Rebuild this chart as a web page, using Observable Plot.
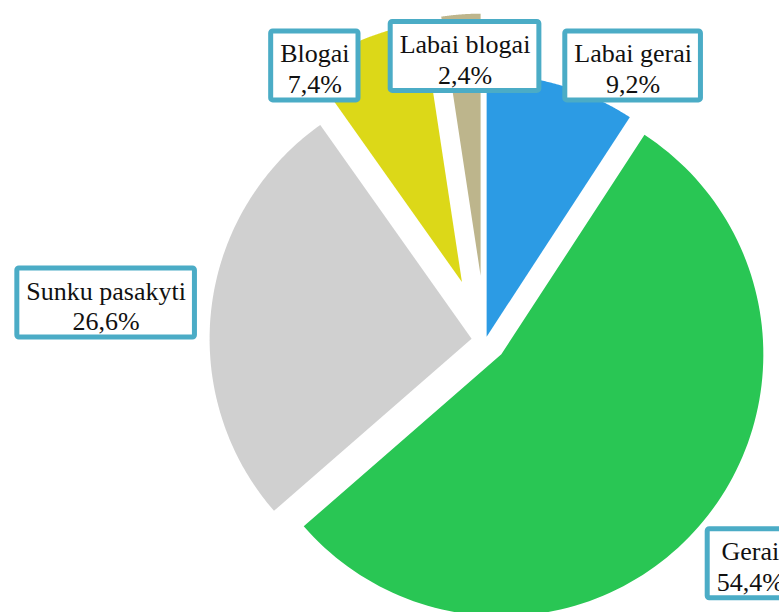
<!DOCTYPE html>
<html>
<head>
<meta charset="utf-8">
<script src="https://cdn.jsdelivr.net/npm/d3@7"></script>
<script src="https://cdn.jsdelivr.net/npm/@observablehq/plot@0.6"></script>
<style>
  html, body { margin: 0; padding: 0; background: #fff; overflow: hidden; }
  #chart svg { display: block; }
</style>
</head>
<body>
<div id="chart"></div>
<script>
// ---- data ----
const categories = ["Labai gerai", "Gerai", "Sunku pasakyti", "Blogai", "Labai blogai"];
const shares = [9.2, 54.4, 26.6, 7.4, 2.4];
const colors = ["#2c9be4", "#29c654", "#d0d0d0", "#dcd818", "#bdb58c"];

// ---- layout (pixels / degrees) ----
const W = 779, H = 612;
const pie = {cx: 485, cy: 340, r: 262};
const explode = [4, 21, 14, 63, 65];
const labelNudge = [11.7, -0.9, -1.2, -9.9, 0.2];
const labelDist = [1.19, 1.322, 1.455, 1.234, 1.087];
const FONT = "'Liberation Serif', 'Times New Roman', serif";
const FS = 26;

const fmt = v => v.toFixed(1).replace(".", ",") + "%";

const arcs = d3.pie().sort(null).value(d => d)(shares);

const ctx = document.createElement("canvas").getContext("2d");
ctx.font = `${FS}px ${FONT}`;

const slices = [];
const labels = [];
arcs.forEach((a, i) => {
  const mid = (a.startAngle + a.endAngle) / 2;
  const ox = pie.cx + explode[i] * Math.sin(mid);
  const oy = pie.cy - explode[i] * Math.cos(mid);
  const pts = [{x: ox, y: oy}];
  const N = 120;
  for (let k = 0; k <= N; k++) {
    const t = a.startAngle + (a.endAngle - a.startAngle) * k / N;
    pts.push({x: ox + pie.r * Math.sin(t), y: oy - pie.r * Math.cos(t)});
  }
  pts.push({x: ox, y: oy});
  slices.push({pts, color: colors[i]});

  const la = mid + labelNudge[i] * Math.PI / 180;
  const lx = pie.cx + labelDist[i] * pie.r * Math.sin(la);
  const ly = pie.cy - labelDist[i] * pie.r * Math.cos(la);
  const lines = [categories[i], fmt(shares[i])];
  const tw = Math.max(...lines.map(s => ctx.measureText(s).width));
  const bw = tw + 18, bh = 69;
  labels.push({x: lx, y: ly, text: lines.join("\n"),
    x1: lx - bw / 2, x2: lx + bw / 2, y1: ly - bh / 2, y2: ly + bh / 2});
});

const plot = Plot.plot({
  width: W,
  height: H,
  margin: 0,
  x: {type: "linear", domain: [0, W], range: [0, W], axis: null},
  y: {type: "linear", domain: [0, H], range: [0, H], axis: null},
  style: {background: "#fff"},
  marks: [
    ...slices.map(s => Plot.line(s.pts, {x: "x", y: "y", fill: s.color, stroke: "none", curve: "linear"})),
    Plot.rect(labels, {x1: "x1", x2: "x2", y1: "y1", y2: "y2", fill: "white", stroke: "#4bacc6", strokeWidth: 5, rx: 2}),
    Plot.text(labels, {x: "x", y: "y", text: "text", fontSize: FS, fontFamily: FONT, lineHeight: 1.18, dy: 2, fill: "#111", textAnchor: "middle"})
  ]
});
document.getElementById("chart").appendChild(plot);
</script>
</body>
</html>
